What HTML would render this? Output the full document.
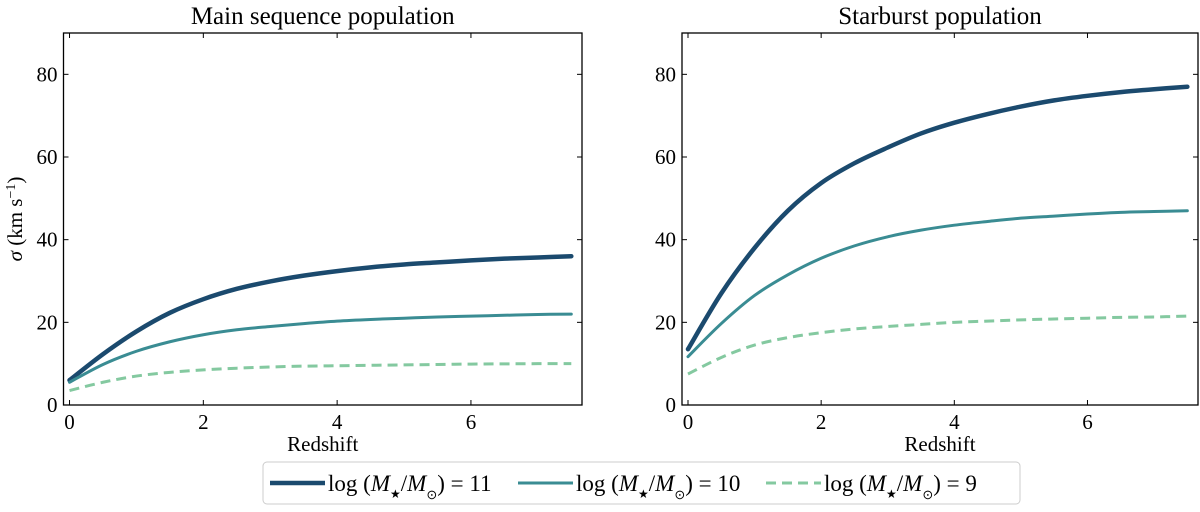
<!DOCTYPE html>
<html><head><meta charset="utf-8">
<style>
body{margin:0;background:#fff;}
svg{display:block;font-family:"Liberation Serif",serif;}
</style></head>
<body>
<svg id="chart" width="1200" height="512" viewBox="0 0 1200 512"></svg>
<script>
const xs = [0,0.5,1,1.5,2,2.5,3,3.5,4,4.5,5,5.5,6,6.5,7,7.5];
const msHigh = [6,12.3,17.8,22.3,25.6,28.1,29.9,31.3,32.4,33.3,34,34.5,35,35.4,35.7,36];
const msMid = [5.5,9.8,13,15.3,17,18.2,19,19.7,20.3,20.7,21,21.3,21.5,21.7,21.9,22];
const msLow = [3.5,5.5,7,7.9,8.5,8.9,9.2,9.4,9.5,9.6,9.7,9.8,9.9,9.95,10,10];
const sbHigh = [13.5,27,38,47,53.7,58.5,62.3,65.7,68.3,70.4,72.2,73.7,74.8,75.7,76.4,77];
const sbMid = [11.7,19.7,26.5,31.5,35.5,38.5,40.7,42.3,43.5,44.4,45.2,45.7,46.2,46.6,46.8,47];
const sbLow = [7.5,11.5,14.5,16.3,17.5,18.4,19,19.5,20,20.3,20.6,20.8,21,21.2,21.3,21.5];
const xTicks = [0,2,4,6];
const yTicks = [0,20,40,60,80];
const titles = ["Main sequence population","Starburst population"];

const NS="http://www.w3.org/2000/svg";
const svg=document.getElementById('chart');
function mk(tag,attrs,parent){const e=document.createElementNS(NS,tag);for(const k in attrs)e.setAttribute(k,attrs[k]);(parent||svg).appendChild(e);return e;}
const colors=["#1b4a6e","#3a8c93","#84c9a0"];
const widths=[4.5,3,3];
const panels=[{l:63.5,r:582,series:[msHigh,msMid,msLow],name:'main-sequence'},{l:682,r:1198,series:[sbHigh,sbMid,sbLow],name:'starburst'}];
const yTop=33,yBot=405,xmin=-0.09,xmax=7.66,ymin=0,ymax=90;
function path(pts){let d=`M${pts[0][0]},${pts[0][1]}`;for(let i=0;i<pts.length-1;i++){const p0=pts[Math.max(0,i-1)],p1=pts[i],p2=pts[i+1],p3=pts[Math.min(pts.length-1,i+2)];d+=` C${p1[0]+(p2[0]-p0[0])/6},${p1[1]+(p2[1]-p0[1])/6} ${p2[0]-(p3[0]-p1[0])/6},${p2[1]-(p3[1]-p1[1])/6} ${p2[0]},${p2[1]}`;}return d;}
panels.forEach((p,pi)=>{
  const g=mk('g',{});
  
  
  const X=v=>p.l+(v-xmin)/(xmax-xmin)*(p.r-p.l);
  const Y=v=>yBot-(v-ymin)/(ymax-ymin)*(yBot-yTop);
  p.series.forEach((s,si)=>{
    const pts=xs.map((x,i)=>[X(x),Y(s[i])]);
    const a={d:path(pts),fill:'none',stroke:colors[si],'stroke-width':widths[si],'stroke-linecap':si==2?'butt':'round'};
    if(si==2)a['stroke-dasharray']='10,6';
    const e=mk('path',a,g);
    
    
  });
  const fr=mk('rect',{x:p.l,y:yTop,width:p.r-p.l,height:yBot-yTop,fill:'none',stroke:'#000','stroke-width':1.3},g);
  
  
  xTicks.forEach(t=>{
    mk('line',{x1:X(t),x2:X(t),y1:yBot,y2:yBot-5,stroke:'#000','stroke-width':1},g);
    mk('line',{x1:X(t),x2:X(t),y1:yTop,y2:yTop+5,stroke:'#000','stroke-width':1},g);
    const tx=mk('text',{x:X(t),y:yBot+24,'text-anchor':'middle','font-size':21},g);tx.textContent=t;
    
    
  });
  yTicks.forEach(t=>{
    mk('line',{x1:p.l,x2:p.l+5,y1:Y(t),y2:Y(t),stroke:'#000','stroke-width':1},g);
    mk('line',{x1:p.r,x2:p.r-5,y1:Y(t),y2:Y(t),stroke:'#000','stroke-width':1},g);
    const tx=mk('text',{x:p.l-6,y:Y(t)+7,'text-anchor':'end','font-size':21},g);tx.textContent=t;
    
    
  });
  const ti=mk('text',{x:(p.l+p.r)/2,y:24,'text-anchor':'middle','font-size':25},g);ti.textContent=titles[pi];
  
  
  const xl=mk('text',{x:(p.l+p.r)/2,y:451,'text-anchor':'middle','font-size':21},g);xl.textContent='Redshift';
  
  
});
const yl=mk('text',{transform:'translate(22,219) rotate(-90)','text-anchor':'middle','font-size':21});
yl.innerHTML='<tspan font-style="italic">σ</tspan> (km s<tspan baseline-shift="super" font-size="14">−1</tspan>)';


const lg=mk('g',{});


mk('rect',{x:263,y:462,width:757,height:42,rx:4,fill:'#fff',stroke:'#ccc','stroke-width':1},lg);
const labels=['11','10','9'];
const lx=[270,518,766];
labels.forEach((l,i)=>{
  const a={x1:lx[i],x2:lx[i]+55,y1:483,y2:483,stroke:colors[i],'stroke-width':widths[i]};
  if(i==2)a['stroke-dasharray']='10,6';
  const ln=mk('line',a,lg);
  
  
  const t=mk('text',{x:lx[i]+58,y:491,'font-size':23},lg);
  t.innerHTML='log (<tspan font-style="italic">M</tspan><tspan font-size="12" baseline-shift="sub">★</tspan>/<tspan font-style="italic">M</tspan><tspan font-size="13" baseline-shift="sub">⊙</tspan>) = '+l;
  
  
});
</script>
</body></html>
